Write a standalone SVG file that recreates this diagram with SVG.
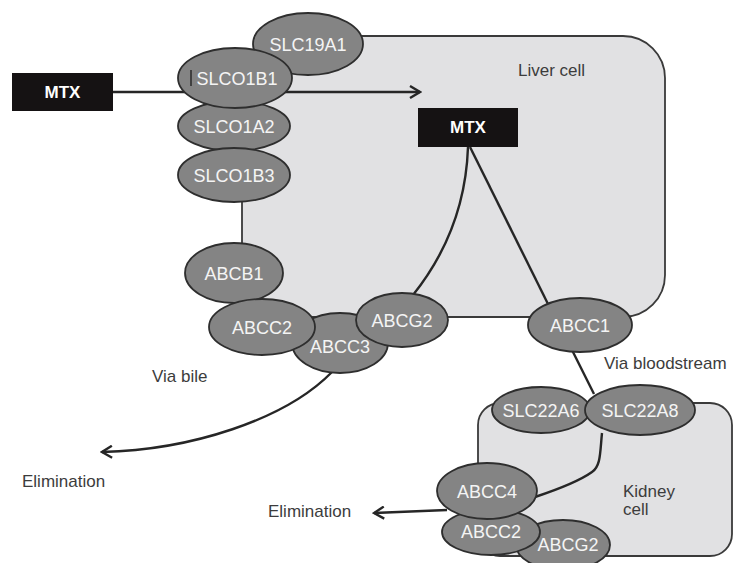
<svg xmlns="http://www.w3.org/2000/svg" width="733" height="563" viewBox="0 0 733 563">
<style>
.cell{fill:#e1e1e3;stroke:#3a3a3a;stroke-width:1.8}
.prot ellipse{fill:#848484;stroke:#2e2e2e;stroke-width:1.8}
.prot text{fill:#f4f4f4;font-family:"Liberation Sans",Arial,sans-serif;font-size:18px;text-anchor:middle}
.box rect{fill:#151213}
.box text{fill:#ffffff;font-family:"Liberation Sans",Arial,sans-serif;font-size:17px;font-weight:bold;text-anchor:middle}
.lbl{fill:#3c3c3c;font-family:"Liberation Sans",Arial,sans-serif;font-size:17px}
.conn path{fill:none;stroke:#262626;stroke-width:2.4}
</style>
<defs>
<marker id="arr" markerWidth="14" markerHeight="14" refX="12" refY="7" orient="auto" markerUnits="userSpaceOnUse">
<path d="M2,1 L12,7 L2,13" fill="none" stroke="#262626" stroke-width="2.4"/>
</marker>
</defs>
<g id="liver-cell"><rect class="cell" x="242" y="36" width="423" height="281" rx="42"/></g>
<g id="kidney-cell"><rect class="cell" x="478" y="403" width="254" height="153" rx="22"/></g>
<g class="lbl" id="labels">
<text x="518" y="76">Liver cell</text>
<text x="152" y="382">Via bile</text>
<text x="22" y="487">Elimination</text>
<text x="268" y="517">Elimination</text>
<text x="604" y="369">Via bloodstream</text>
<text x="623" y="497">Kidney</text>
<text x="623" y="515">cell</text>
</g>
<g class="conn" id="connectors">
<path d="M113,92 L420,92" marker-end="url(#arr)"/>
<path d="M468,147 C466,205 445,255 413,295"/>
<path d="M470,147 L549,306"/>
<path d="M572,350 L594,394"/>
<path d="M602,433 C600,452 601,466 592,472 C578,482 556,490 535,497"/>
<path d="M332,372 C285,420 190,450 102,452" marker-end="url(#arr)"/>
<path d="M447,510 L374,513" marker-end="url(#arr)"/>
</g>
<g id="mtx-outside" class="box"><rect x="12" y="73" width="101" height="38"/><text x="62.5" y="98">MTX</text></g>
<g id="mtx-inside" class="box"><rect x="418" y="108" width="100" height="39"/><text x="468" y="133">MTX</text></g>
<g id="SLC19A1" class="prot"><ellipse cx="308" cy="44" rx="55" ry="31"/><text x="308" y="51">SLC19A1</text></g>
<g id="SLCO1A2" class="prot"><ellipse cx="234" cy="126" rx="56" ry="25"/><text x="234" y="133">SLCO1A2</text></g>
<g id="SLCO1B1" class="prot"><ellipse cx="235" cy="78" rx="57" ry="30"/><text x="237" y="85">SLCO1B1</text><line x1="191" y1="70" x2="191" y2="86" stroke="#2a2a2a" stroke-width="1.5"/></g>
<g id="SLCO1B3" class="prot"><ellipse cx="234" cy="175" rx="56" ry="27"/><text x="234" y="182">SLCO1B3</text></g>
<g id="ABCB1" class="prot"><ellipse cx="234" cy="273" rx="49" ry="30"/><text x="234" y="280">ABCB1</text></g>
<g id="ABCC3" class="prot"><ellipse cx="340" cy="343" rx="48" ry="30"/><text x="340" y="353">ABCC3</text></g>
<g id="ABCC2-liver" class="prot"><ellipse cx="262" cy="327" rx="53" ry="28"/><text x="262" y="334">ABCC2</text></g>
<g id="ABCG2-liver" class="prot"><ellipse cx="402" cy="320" rx="46" ry="27"/><text x="402" y="327">ABCG2</text></g>
<g id="ABCC1" class="prot"><ellipse cx="580" cy="325" rx="52" ry="27"/><text x="580" y="332">ABCC1</text></g>
<g id="SLC22A6" class="prot"><ellipse cx="541" cy="410" rx="49" ry="23"/><text x="541" y="417">SLC22A6</text></g>
<g id="SLC22A8" class="prot"><ellipse cx="640" cy="410" rx="55" ry="25"/><text x="640" y="417">SLC22A8</text></g>
<g id="ABCG2-kidney" class="prot"><ellipse cx="563" cy="545" rx="47" ry="25"/><text x="568" y="551">ABCG2</text></g>
<g id="ABCC2-kidney" class="prot"><ellipse cx="491" cy="532" rx="49" ry="23"/><text x="491" y="538">ABCC2</text></g>
<g id="ABCC4" class="prot"><ellipse cx="487" cy="491" rx="50" ry="28"/><text x="487" y="498">ABCC4</text></g>
</svg>
